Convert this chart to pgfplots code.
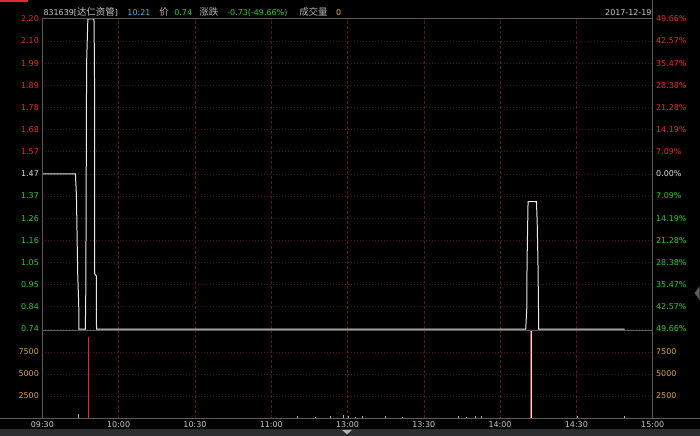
\documentclass[border=0pt]{standalone}
\usepackage{pgfplots}
\pgfplotsset{compat=1.18}
\usepackage{fontspec}
\setmainfont{DejaVu Sans}
\newfontfamily\cjk{Noto Sans CJK SC}
\definecolor{gridred}{HTML}{501010}
\definecolor{gridred2}{HTML}{601414}
\definecolor{framec}{HTML}{5C5C5C}
\definecolor{upred}{HTML}{E82828}
\definecolor{dngreen}{HTML}{2EC82E}
\definecolor{flat}{HTML}{E0E0E0}
\definecolor{volyel}{HTML}{D9A441}
\definecolor{axgrey}{HTML}{C8C8C8}
\definecolor{tealc}{HTML}{4FB6CF}
\definecolor{hdrgrey}{HTML}{B4B4B4}
\definecolor{yel}{HTML}{E6C21E}
\definecolor{pline}{HTML}{E8E8E8}
\definecolor{barbg}{HTML}{2C2D30}
\begin{document}
\begin{tikzpicture}
\begin{scope}[x=1bp,y=1bp]
\useasboundingbox (0,0) rectangle (700,436);
\fill[black] (0,0) rectangle (700,436);
\fill[barbg] (0,0) rectangle (700,7);
\fill[hdrgrey] (342,6) -- (352,6) -- (347,1.5) -- cycle;
\fill[framec] (700,150) -- (695,143) -- (700,136) -- cycle;
\fill[upred] (0,434) rectangle (28,436);
\end{scope}
\pgfplotsset{
  every axis/.append style={scale only axis, anchor=south west, xmin=0, xmax=240, width=611bp,
    major tick length=0pt, axis line style={draw=none},
    tick label style={font=\fontsize{8}{9.6}\selectfont}},
}
% ---------- price panel ----------
\begin{axis}[at={(42bp,107bp)}, height=310.5bp, ymin=0.74, ymax=2.20, clip=false,
  xtick={30,60,...,210}, xticklabels={}, xmajorgrids, ymajorgrids,
  major x grid style={gridred2, dash pattern=on 3bp off 2bp, line width=0.6bp},
  major y grid style={gridred, dash pattern=on 1bp off 2bp, line width=0.8bp},
  ytick={0.74,0.844286,0.948571,1.052857,1.157143,1.261429,1.365714,1.47,1.574286,1.678571,1.782857,1.887143,1.991429,2.095714,2.20},
  yticklabels={\textcolor{dngreen}{0.74},\textcolor{dngreen}{0.84},\textcolor{dngreen}{0.95},\textcolor{dngreen}{1.05},\textcolor{dngreen}{1.16},\textcolor{dngreen}{1.26},\textcolor{dngreen}{1.37},\textcolor{flat}{1.47},\textcolor{upred}{1.57},\textcolor{upred}{1.68},\textcolor{upred}{1.78},\textcolor{upred}{1.89},\textcolor{upred}{1.99},\textcolor{upred}{2.10},\textcolor{upred}{2.20}},
]
\addplot[pline, line width=1bp, no markers] coordinates {
(0,1.47)(13,1.47)(13.4,1.37)(13.9,1.00)(14.3,0.86)(14.4,0.74)
(16.9,0.74)(17.1,0.93)(17.4,1.99)(17.9,2.20)(20.3,2.20)(20.5,1.99)(20.6,1.00)(21.2,0.99)(21.3,0.74)
(190.1,0.74)(190.5,0.84)(190.6,1.05)(191.0,1.34)(194.3,1.34)(194.6,1.24)(194.9,1.05)(195.2,0.74)
(229,0.74)};
\end{axis}
\begin{axis}[at={(42bp,107bp)}, height=310.5bp, ymin=0.74, ymax=2.20,
  hide x axis, yticklabel pos=right,
  ytick={0.74,0.844286,0.948571,1.052857,1.157143,1.261429,1.365714,1.47,1.574286,1.678571,1.782857,1.887143,1.991429,2.095714,2.20},
  yticklabels={\textcolor{dngreen}{49.66\%},\textcolor{dngreen}{42.57\%},\textcolor{dngreen}{35.47\%},\textcolor{dngreen}{28.38\%},\textcolor{dngreen}{21.28\%},\textcolor{dngreen}{14.19\%},\textcolor{dngreen}{7.09\%},\textcolor{flat}{0.00\%},\textcolor{upred}{7.09\%},\textcolor{upred}{14.19\%},\textcolor{upred}{21.28\%},\textcolor{upred}{28.38\%},\textcolor{upred}{35.47\%},\textcolor{upred}{42.57\%},\textcolor{upred}{49.66\%}},
]
\end{axis}
% ---------- volume panel ----------
\begin{axis}[at={(42bp,18bp)}, height=88bp, ymin=0, ymax=10000,
  xtick={0,30,...,240}, xticklabels={09:30,10:00,10:30,11:00,13:00,13:30,14:00,14:30,15:00},
  xticklabel style={text=axgrey},
  xmajorgrids, ymajorgrids,
  major x grid style={gridred2, dash pattern=on 3bp off 2bp, line width=0.6bp},
  major y grid style={gridred, dash pattern=on 1bp off 2bp, line width=0.8bp},
  ytick={2500,5000,7500}, yticklabels={2500,5000,7500}, yticklabel style={text=volyel},
  scaled y ticks=false,
]
\addplot[ycomb, no markers, upred, line width=1bp] coordinates {(18.1,9200) (191.9,12000)};
\addplot[ycomb, no markers, pline, line width=1bp] coordinates {(192.3,12000)};
\addplot[ycomb, no markers, hdrgrey, line width=0.7bp] coordinates {
(14.1,450)(100.2,200)(107.2,150)(113.1,250)(118.2,300)(120.2,200)(122.9,150)(125.7,250)
(134.7,200)(141.4,150)(163.4,200)(166.9,150)(170.1,200)(172.8,250)(210.5,250)(229,200)};
\end{axis}
\begin{axis}[at={(42bp,18bp)}, height=88bp, ymin=0, ymax=10000,
  hide x axis, yticklabel pos=right, scaled y ticks=false,
  ytick={2500,5000,7500}, yticklabels={2500,5000,7500}, yticklabel style={text=volyel},
]
\end{axis}
\begin{scope}[x=1bp,y=1bp]
% ---------- frame ----------
\draw[framec, line width=0.8bp] (0,18) -- (700,18);
\draw[framec, line width=0.8bp] (42,105.5) -- (653,105.5);
\draw[framec, line width=0.8bp] (42,418) -- (653,418);
\draw[framec, line width=0.8bp] (42,18) -- (42,418);
\draw[framec, line width=0.8bp] (653,18) -- (653,436);
% ---------- header ----------
\node[anchor=base west, inner sep=0pt, text=axgrey, font=\fontsize{8}{9.6}\selectfont] at (43,421) {831639[{\cjk\fontsize{9.5}{11}\selectfont 达仁资管}]};
\node[anchor=base west, inner sep=0pt, text=tealc, font=\fontsize{8}{9.6}\selectfont] at (127,421) {10:21};
\node[anchor=base west, inner sep=0pt, text=hdrgrey, font=\cjk\fontsize{9.5}{11}\selectfont] at (159,421) {价};
\node[anchor=base west, inner sep=0pt, text=dngreen, font=\fontsize{8}{9.6}\selectfont] at (174,421) {0.74};
\node[anchor=base west, inner sep=0pt, text=hdrgrey, font=\cjk\fontsize{9.5}{11}\selectfont] at (199,421) {涨跌};
\node[anchor=base west, inner sep=0pt, text=dngreen, font=\fontsize{8}{9.6}\selectfont] at (227,421) {-0.73(-49.66\%)};
\node[anchor=base west, inner sep=0pt, text=hdrgrey, font=\cjk\fontsize{9.5}{11}\selectfont] at (299,421) {成交量};
\node[anchor=base west, inner sep=0pt, text=yel, font=\fontsize{8}{9.6}\selectfont] at (336,421) {0};
\node[anchor=base east, inner sep=0pt, text=axgrey, font=\fontsize{8}{9.6}\selectfont] at (652,421) {2017-12-19};
\end{scope}
\end{tikzpicture}
\end{document}
